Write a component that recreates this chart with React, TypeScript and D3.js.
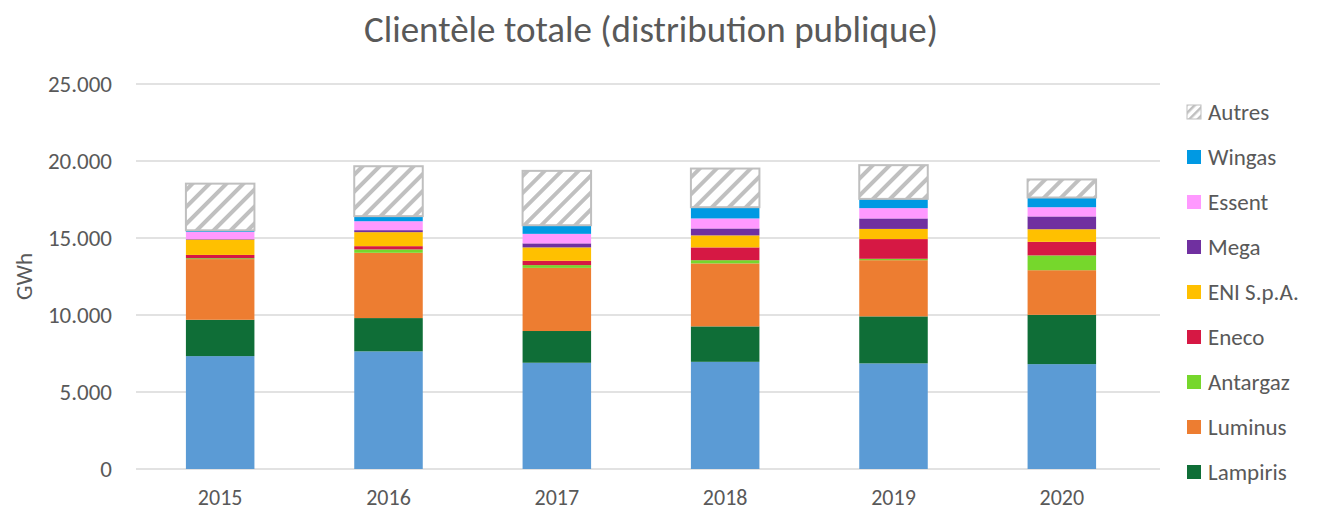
import React from "react";
import * as d3 from "d3";

const years = ["2015", "2016", "2017", "2018", "2019", "2020"];
const seriesNames = ["ENGIE", "Lampiris", "Luminus", "Antargaz", "Eneco", "ENI S.p.A.", "Mega", "Essent", "Wingas", "Autres"];
const legendNames = ["Autres", "Wingas", "Essent", "Mega", "ENI S.p.A.", "Eneco", "Antargaz", "Luminus", "Lampiris"];
const engie = [7330, 7640, 6900, 6960, 6860, 6810];
const lampiris = [2360, 2160, 2060, 2300, 3050, 3200];
const luminus = [3940, 4240, 4100, 4090, 3650, 2900];
const antargaz = [60, 220, 180, 210, 90, 960];
const eneco = [210, 210, 280, 830, 1280, 880];
const eni = [1000, 910, 870, 780, 660, 820];
const mega = [30, 130, 260, 450, 680, 830];
const essent = [470, 580, 620, 650, 670, 600];
const wingas = [100, 330, 560, 730, 600, 630];
const autres = [3030, 3240, 3530, 2510, 2190, 1170];
const yTicks = [0, 5000, 10000, 15000, 20000, 25000];
const colors = ["#5B9BD5", "#0F6E37", "#ED7D31", "#76D72C", "#D61844", "#FFC000", "#7030A0", "#FF99FF", "#0099E3", "url(#hatch)"];

const allSeries = [engie, lampiris, luminus, antargaz, eneco, eni, mega, essent, wingas, autres];

export default function App() {
  const W = 1317, H = 511;
  const x = d3.scaleBand().domain(years).range([136, 1146]).paddingInner(0.593).paddingOuter(0.2965);
  const y = d3.scaleLinear().domain([0, 25000]).range([469, 84]);
  const rows = years.map((yr, i) => {
    const r: any = { year: yr };
    seriesNames.forEach((n, j) => (r[n] = allSeries[j][i]));
    return r;
  });
  const stacked = d3.stack().keys(seriesNames)(rows);
  const fmt = (v: number) => d3.format(",")(v).replace(/,/g, ".");
  const font = "Calibri, Carlito, 'Open Sans', sans-serif";
  return (
    <svg width={W} height={H} style={{ position: "absolute", left: 0, top: 0, background: "#fff" }} fontFamily={font}>
      <defs>
        <pattern id="hatch" patternUnits="userSpaceOnUse" width="12" height="12" patternTransform="rotate(45)">
          <rect width="12" height="12" fill="#fff" />
          <rect x="0" y="0" width="4" height="12" fill="#C0C0C0" />
        </pattern>
        <pattern id="hatchSmall" patternUnits="userSpaceOnUse" width="6" height="6" patternTransform="rotate(45)">
          <rect width="6" height="6" fill="#fff" />
          <rect x="0" y="0" width="2.5" height="6" fill="#C0C0C0" />
        </pattern>
      </defs>
      <text x={651} y={42} textAnchor="middle" fontSize={37} fill="#595959">Clientèle totale (distribution publique)</text>
      {yTicks.map((t) => (
        <g key={t}>
          <line x1={136} x2={1160} y1={y(t)} y2={y(t)} stroke="#D9D9D9" strokeWidth={1.5} />
          <text x={112} y={y(t)} dy="0.35em" textAnchor="end" fontSize={23} fill="#595959">{fmt(t)}</text>
        </g>
      ))}
      <text transform={`translate(32,${y(12500)}) rotate(-90)`} textAnchor="middle" fontSize={23} fill="#595959">GWh</text>
      {stacked.map((s, j) => (
        <g key={s.key}>
          {s.map((d, i) => (
            <rect key={i} x={x(years[i])} width={x.bandwidth()} y={y(d[1])} height={y(d[0]) - y(d[1])}
              fill={colors[j]} stroke={j === 9 ? "#BFBFBF" : "none"} strokeWidth={j === 9 ? 2 : 0} />
          ))}
        </g>
      ))}
      {years.map((yr) => (
        <text key={yr} x={(x(yr) as number) + x.bandwidth() / 2} y={505} textAnchor="middle" fontSize={22} fill="#595959">{yr}</text>
      ))}
      {legendNames.map((n, k) => {
        const j = seriesNames.indexOf(n);
        const cy = 112 + k * 45;
        return (
          <g key={n}>
            <rect x={1187} y={cy - 7} width={14} height={14} fill={j === 9 ? "url(#hatchSmall)" : colors[j]} stroke={j === 9 ? "#BFBFBF" : "none"} strokeWidth={1} />
            <text x={1208} y={cy} dy="0.35em" fontSize={23} fill="#595959">{n}</text>
          </g>
        );
      })}
    </svg>
  );
}
